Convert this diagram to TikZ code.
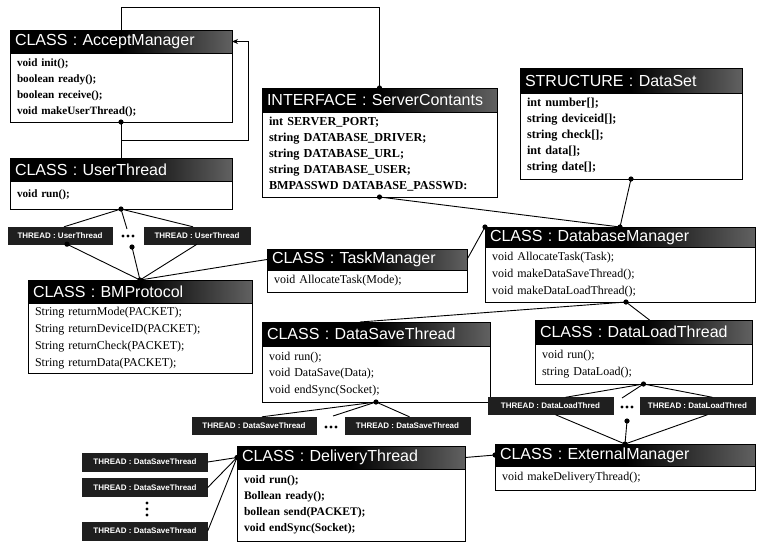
\documentclass[tikz,border=0pt]{standalone}
\usepackage{fontspec}
\setmainfont{Liberation Serif}
\newfontfamily\hdrfont{Liberation Sans}
\usetikzlibrary{arrows.meta,calc}
\tikzset{
  hdr/.style={anchor=north west, draw=black, line width=0.9pt, outer sep=0pt,
    left color=black, right color=black!62, middle color=black,
    text=white, font=\hdrfont\fontsize{16}{18}\selectfont,
    inner xsep=6pt, inner ysep=0pt, align=left},
  bdy/.style={anchor=north west, draw=black, fill=white, line width=0.9pt, outer sep=0pt,
    inner xsep=7pt, inner ysep=2pt, align=left,
    font=\fontsize{12}{16.8}\selectfont},
  bdyb/.style={bdy, font=\bfseries\fontsize{#1}{16}\selectfont},
  bdyb/.default=11.2,
  thr/.style={fill=black!88, draw=black!88, text=white,
    font=\hdrfont\bfseries\fontsize{8}{9}\selectfont,
    minimum height=17pt, inner sep=1pt},
  conn/.style={line width=0.9pt, draw=black}
}
\newcommand\umlcls[9]{%
  \pgfmathsetmacro\clstw{#4-10}%
  \pgfmathsetmacro\clstwb{#4-14}%
  \node[hdr, inner xsep=5pt, minimum width=#4pt, minimum height=#5pt, text width=\clstw pt] (#1) at (#2,#3) {#7};%
  \node[#9, minimum width=#4pt, minimum height=#6pt, text width=\clstwb pt] (#1-b) at (#1.south west) {#8};%
}
\newcommand\jdot[1]{\fill (#1) circle (2.6);}
\newcommand\hdots[1]{\foreach \dx in {-5,0,5} \fill ($(#1)+(\dx,0)$) circle (1.6);}
\begin{document}
\begin{tikzpicture}[x=1pt,y=-1pt]
\useasboundingbox[fill=white] (0,0) rectangle (757,542);

% classes
\umlcls{am}{10}{30}{222}{23}{69}{CLASS : AcceptManager}{void init();\\boolean ready();\\boolean receive();\\void makeUserThread();}{bdyb}
\umlcls{ut}{10}{158}{222}{23}{28}{CLASS : UserThread}{void run();}{bdyb}
\umlcls{sc}{262}{88}{235}{24}{85}{INTERFACE : ServerContants}{int SERVER\_PORT;\\string DATABASE\_DRIVER;\\string DATABASE\_URL;\\string DATABASE\_USER;\\BMPASSWD DATABASE\_PASSWD:}{bdyb=12.2}
\umlcls{ds}{520}{68}{222}{25}{86}{STRUCTURE : DataSet}{int number[];\\string deviceid[];\\string check[];\\int data[];\\string date[];}{bdyb=12.2}
\umlcls{tm}{267}{249}{200}{21}{22}{CLASS : TaskManager}{void AllocateTask(Mode);}{bdy}
\umlcls{bmp}{28}{280}{224}{23}{70}{CLASS : BMProtocol}{String returnMode(PACKET);\\String returnDeviceID(PACKET);\\String returnCheck(PACKET);\\String returnData(PACKET);}{bdy}
\umlcls{dbm}{485}{227}{270}{20}{55}{CLASS : DatabaseManager}{void AllocateTask(Task);\\void makeDataSaveThread();\\void makeDataLoadThread();}{bdy}
\umlcls{dst}{262}{322}{228}{24}{56}{CLASS : DataSaveThread}{void run();\\void DataSave(Data);\\void endSync(Socket);}{bdy}
\umlcls{dlt}{535}{320}{217}{24}{40}{CLASS : DataLoadThread}{void run();\\string DataLoad();}{bdy}
\umlcls{dt}{237}{446}{228}{23}{72}{CLASS : DeliveryThread}{void run();\\Bollean ready();\\bollean send(PACKET);\\void endSync(Socket);}{bdyb=11.6}
\umlcls{em}{495}{444}{260}{22}{24}{CLASS : ExternalManager}{void makeDeliveryThread();}{bdy}

% thread boxes
\node[thr, minimum width=104pt] (ut1) at (60,235.5) {THREAD : UserThread};
\node[thr, minimum width=106pt] (ut2) at (197,235.5) {THREAD : UserThread};
\coordinate (utd) at (128,236);
\coordinate (utdt) at (127,229);
\coordinate (utdb) at (132,247);
\hdots{utd}

\node[thr, minimum width=124pt] (dsv1) at (254,425.5) {THREAD : DataSaveThread};
\node[thr, minimum width=125pt] (dsv2) at (407.5,425.5) {THREAD : DataSaveThread};
\coordinate (dsvd) at (331,427);
\coordinate (dsvdt) at (333,416);
\hdots{dsvd}

\node[thr, minimum width=125pt] (dld1) at (550.5,406) {THREAD : DataLoadThred};
\node[thr, minimum width=115pt] (dld2) at (697.5,406) {THREAD : DataLoadThred};
\coordinate (dldd) at (627,407);
\coordinate (dlddt) at (622,398);
\coordinate (dlddb) at (627,421);
\hdots{dldd}

\node[thr, minimum width=125pt, minimum height=18pt] (lt1) at (145,462) {THREAD : DataSaveThread};
\node[thr, minimum width=125pt, minimum height=18pt] (lt2) at (145,487.5) {THREAD : DataSaveThread};
\node[thr, minimum width=125pt, minimum height=18pt] (lt3) at (145,531) {THREAD : DataSaveThread};
\coordinate (ltd) at (147,509);
\foreach \dy in {-6,0,6} \fill ($(ltd)+(0,\dy)$) circle (1.6);

% connectors
\coordinate (topr) at (379.5,7);
\draw[conn] (am.north) |- (topr) -- (sc.north);
\jdot{sc.north}
\coordinate (lp1) at (248,140);
\draw[conn] (am-b.south) -- (ut.north);
\draw[conn,-{Stealth[length=6pt,width=5pt]}] (am-b.south |- lp1) -- (lp1) |- (am.east);
\jdot{am-b.south}

\draw[conn] (ut-b.south) -- ([xshift=4pt]ut1.north);
\draw[conn] (ut-b.south) -- (utdt);
\draw[conn] (ut-b.south) -- ([xshift=-4pt]ut2.north);
\jdot{ut-b.south}
\draw[conn] ([xshift=7pt]ut1.south) -- (bmp.north);
\draw[conn] (utdb) -- (bmp.north);
\draw[conn] (ut2.south) -- (bmp.north);
\draw[conn] (tm.west) -- (bmp.north);
\jdot{[xshift=7pt]ut1.south}
\jdot{utdb}
\jdot{bmp.north}

\draw[conn] (sc-b.south) -- (dbm.north);
\draw[conn] (ds-b.south) -- (dbm.north);
\draw[conn] (tm.east) -- (dbm.north west);
\jdot{sc-b.south}
\jdot{ds-b.south}
\jdot{dbm.north}
\jdot{dbm.north west}

\draw[conn] ([xshift=6pt]dbm-b.south) -- ([xshift=-16pt]dst.north);
\draw[conn] ([xshift=6pt]dbm-b.south) -- ([xshift=6pt]dlt.north);
\jdot{[xshift=6pt]dbm-b.south}

\draw[conn] (dst-b.south) -- ([xshift=8pt]dsv1.north);
\draw[conn] (dst-b.south) -- (dsvdt);
\draw[conn] (dst-b.south) -- ([xshift=2pt]dsv2.north);
\jdot{dst-b.south}

\draw[conn] (dlt-b.south) -- ([xshift=15pt]dld1.north);
\draw[conn] (dlt-b.south) -- (dlddt);
\draw[conn] (dlt-b.south) -- ([xshift=15pt]dld2.north);
\jdot{dlt-b.south}
\draw[conn] ([xshift=5pt]dld1.south) -- (em.north);
\draw[conn] (dlddb) -- (em.north);
\draw[conn] ([xshift=10pt]dld2.south) -- (em.north);
\jdot{dlddb}
\jdot{em.north}

\draw[conn] (em.west) -- (dt.east);
\jdot{em.west}
\draw[conn] (lt1.east) -- (dt.west);
\draw[conn] (lt2.east) -- (dt.west);
\draw[conn] (lt3.east) -- (dt.west);
\jdot{dt.west}
\end{tikzpicture}
\end{document}
